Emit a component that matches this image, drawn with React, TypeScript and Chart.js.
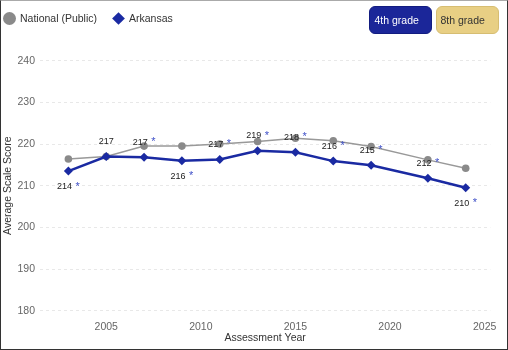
import React, { useEffect, useRef } from "react";
import { Chart, registerables } from "chart.js";

Chart.register(...registerables);

const years = [2003, 2005, 2007, 2009, 2011, 2013, 2015, 2017, 2019, 2022, 2024];
const nationalScores = [216.4, 217.0, 219.5, 219.5, 220.0, 220.6, 221.4, 220.8, 219.4, 216.2, 214.2];
const arkansasScores = [213.5, 217.0, 216.8, 216.0, 216.3, 218.4, 218.0, 215.9, 214.9, 211.8, 209.5];
const arkansasLabels = ["214", "217", "217", "216", "217", "219", "218", "216", "215", "212", "210"];
const significant = [true, false, true, true, true, true, true, true, true, true, true];
const labelSide = ["below", "above", "above", "below", "above", "above", "above", "above", "above", "above", "below"];
const xTickYears = [2005, 2010, 2015, 2020, 2025];
const seriesNames = ["National (Public)", "Arkansas"];
const gradeButtons = ["4th grade", "8th grade"];

const FONT = '"Liberation Sans", Arial, sans-serif';
const BLUE = "#1a2aa2";
const GRAY = "#8a8a8a";

const labelPlugin = {
  id: "pointLabels",
  afterDatasetsDraw(chart: any) {
    const meta = chart.getDatasetMeta(0);
    const ctx = chart.ctx;
    ctx.save();
    ctx.textBaseline = "middle";
    ctx.textAlign = "left";
    meta.data.forEach((pt: any, i: number) => {
      const txt = arkansasLabels[i];
      const y = pt.y + (labelSide[i] === "below" ? 15.5 : -15);
      ctx.font = `9px ${FONT}`;
      const w = ctx.measureText(txt).width;
      ctx.font = `11px ${FONT}`;
      const aw = significant[i] ? ctx.measureText("*").width : 0;
      const gap = significant[i] ? 3.5 : 0;
      const total = w + gap + aw;
      const x0 = pt.x - total / 2;
      ctx.font = `9px ${FONT}`;
      ctx.fillStyle = "#222";
      ctx.fillText(txt, x0, y);
      if (significant[i]) {
        ctx.font = `11px ${FONT}`;
        ctx.fillStyle = "#3f50c8";
        ctx.fillText("*", x0 + w + gap, y);
      }
    });
    ctx.restore();
  },
};

export default function App() {
  const ref = useRef<HTMLCanvasElement>(null);
  useEffect(() => {
    if (!ref.current) return;
    const chart = new Chart(ref.current, {
      type: "line",
      data: {
        datasets: [
          {
            label: seriesNames[1],
            data: years.map((x, i) => ({ x, y: arkansasScores[i] })),
            borderColor: BLUE,
            backgroundColor: BLUE,
            borderWidth: 2.5,
            pointStyle: "rectRot",
            pointRadius: 4.5,
            pointBorderWidth: 0,
            order: 0,
          },
          {
            label: seriesNames[0],
            data: years.map((x, i) => ({ x, y: nationalScores[i] })),
            borderColor: "#999",
            backgroundColor: GRAY,
            borderWidth: 1.5,
            pointStyle: "circle",
            pointRadius: 3.8,
            pointBorderWidth: 0,
            order: 1,
          },
        ],
      },
      options: {
        animation: false,
        responsive: false,
        layout: { padding: { top: 59.7, right: 15, left: 0, bottom: 0 } },
        plugins: { legend: { display: false }, tooltip: { enabled: false } },
        scales: {
          x: {
            type: "linear",
            min: 2001.5,
            max: 2025.3,
            afterBuildTicks: (s: any) => {
              s.ticks = xTickYears.map((v) => ({ value: v }));
            },
            afterFit: (s: any) => {
              s.height = 38.3;
            },
            grid: { display: false, drawTicks: false },
            border: { display: false },
            ticks: {
              padding: 10.5,
              color: "#666",
              font: { family: FONT, size: 10.5 },
              maxRotation: 0,
              callback: (v: any) => String(v),
            },
            title: {
              display: true,
              text: "Assessment Year",
              color: "#333",
              font: { family: FONT, size: 10.5 },
              padding: { top: 0, bottom: 4.5 },
            },
          },
          y: {
            min: 180,
            max: 240,
            afterFit: (s: any) => {
              s.width = 39;
            },
            grid: { color: "#e8e8e8", drawTicks: false },
            border: { display: false, dash: [3, 3] },
            ticks: {
              stepSize: 10,
              padding: 5,
              color: "#666",
              font: { family: FONT, size: 10.5 },
            },
            title: {
              display: true,
              text: "Average Scale Score",
              color: "#333",
              font: { family: FONT, size: 10.5 },
              padding: { top: 1, bottom: 0 },
            },
          },
        },
      },
      plugins: [labelPlugin],
    } as any);
    return () => chart.destroy();
  }, []);

  const textStyle: React.CSSProperties = {
    position: "absolute",
    fontFamily: FONT,
    fontSize: 10.5,
    color: "#333",
    lineHeight: "12px",
    whiteSpace: "nowrap",
  };

  return (
    <div style={{ position: "absolute", left: 0, top: 0, width: 508, height: 350, background: "#fff" }}>
      <canvas ref={ref} width={506} height={348} style={{ position: "absolute", left: 1, top: 1 }} />
      <div
        style={{
          position: "absolute",
          left: 0,
          top: 0,
          width: 508,
          height: 350,
          boxSizing: "border-box",
          border: "1px solid #333",
          borderTopColor: "#aaa",
          pointerEvents: "none",
        }}
      />
      <div style={{ position: "absolute", left: 3, top: 11.5, width: 13, height: 13, borderRadius: "50%", background: GRAY }} />
      <div style={{ ...textStyle, left: 20, top: 12 }}>{seriesNames[0]}</div>
      <div
        style={{
          position: "absolute",
          left: 113.5,
          top: 13.5,
          width: 9,
          height: 9,
          background: BLUE,
          transform: "rotate(45deg)",
        }}
      />
      <div style={{ ...textStyle, left: 129, top: 12 }}>{seriesNames[1]}</div>
      <div
        style={{
          position: "absolute",
          left: 369,
          top: 6,
          width: 63,
          height: 28,
          boxSizing: "border-box",
          background: "#1b2699",
          border: "1px solid #121c80",
          borderRadius: 6,
          color: "#fff",
          fontFamily: FONT,
          fontSize: 10.5,
          lineHeight: "26px",
          paddingLeft: 4.5,
        }}
      >
        {gradeButtons[0]}
      </div>
      <div
        style={{
          position: "absolute",
          left: 436,
          top: 6,
          width: 63,
          height: 28,
          boxSizing: "border-box",
          background: "#e8cf84",
          border: "1px solid #d6bd72",
          borderRadius: 6,
          color: "#333",
          fontFamily: FONT,
          fontSize: 10.5,
          lineHeight: "26px",
          paddingLeft: 3.5,
        }}
      >
        {gradeButtons[1]}
      </div>
    </div>
  );
}
